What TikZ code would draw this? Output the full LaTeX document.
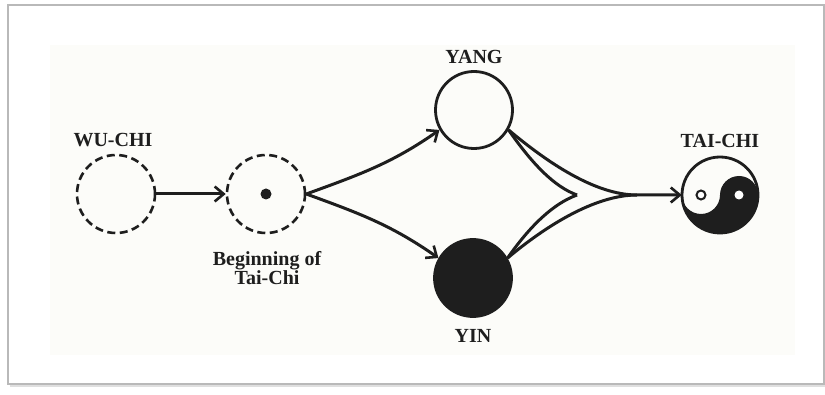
\documentclass[tikz,border=0pt]{standalone}
\usepackage{fontspec}
\setmainfont{Liberation Serif}
\usetikzlibrary{arrows.meta}
\definecolor{bgtint}{RGB}{252,252,249}
\definecolor{ink}{RGB}{30,30,30}
\tikzset{
  lbl/.style={font=\fontsize{20}{18.5}\selectfont\bfseries, text=ink, inner sep=0pt, align=center},
  dcirc/.style={circle, draw=ink, line width=2.6pt, dash pattern=on 8pt off 4.5pt, minimum size=78pt, inner sep=0pt},
  scirc/.style={circle, draw=ink, line width=2.8pt, minimum size=77pt, inner sep=0pt},
  conn/.style={draw=ink, line width=3pt},
  tip/.style={-{Straight Barb[length=9pt,width=15pt,line width=2.6pt]}}
}
\begin{document}
\begin{tikzpicture}[x=1pt,y=1pt]
\useasboundingbox (0,0) rectangle (825,394);
% frame
\fill[white] (8,10) rectangle (824,389);
\fill[bgtint] (50,39) rectangle (795,349);
\draw[gray!25, line width=2.5pt] (10,8) -- (826,8) -- (826,387);
\draw[gray!55, line width=1.3pt] (8,10) rectangle (824,389);
% nodes
\node[dcirc] (wu) at (116,200) {};
\node[dcirc] (beg) at (266,200) {};
\fill[ink] (beg.center) circle[radius=5.5pt];
\node[scirc] (yang) at (474,284) {};
\node[scirc, fill=ink] (yin) at (473,116) {};
\node[circle, minimum size=76pt, inner sep=0pt] (tai) at (720,199) {};
% taijitu
\fill[ink] (682,199) arc[start angle=180,end angle=360,radius=38]
  arc[start angle=0,end angle=180,radius=19]
  arc[start angle=0,end angle=-180,radius=19] -- cycle;
\fill[white] (739,199) circle[radius=4.5];
\draw[ink, line width=2pt, fill=white] (701,199) circle[radius=4.5];
\draw[ink, line width=2.8pt] (tai.center) circle[radius=38];
% labels
\node[lbl] (lwu) at (113,254) {WU-CHI};
\node[lbl] (lbeg) at (267,126) {Beginning of\\Tai-Chi};
\node[lbl] (lyang) at (474,337) {YANG};
\node[lbl] (lyin) at (473,58) {YIN};
\node[lbl] (ltai) at (720,253) {TAI-CHI};
% connectors
\coordinate (m) at (637,199);
\coordinate (cusp) at (577,199);
\draw[conn, tip] (wu.east) -- (beg.west);
\draw[conn, tip] (beg.east) to[out=20,in=215] (yang.210);
\draw[conn, tip] (beg.east) to[out=-20,in=145] (yin.150);
\draw[conn, tip] (yang.-30) .. controls +(-40:50) and +(180:42) .. (m) -- (tai.west);
\draw[conn] (yin.30) .. controls +(40:50) and +(180:42) .. (m);
\draw[conn] (yang.-30) .. controls +(-55:40) and +(160:25) .. (cusp);
\draw[conn] (yin.30) .. controls +(55:40) and +(200:25) .. (cusp);
\end{tikzpicture}
\end{document}
